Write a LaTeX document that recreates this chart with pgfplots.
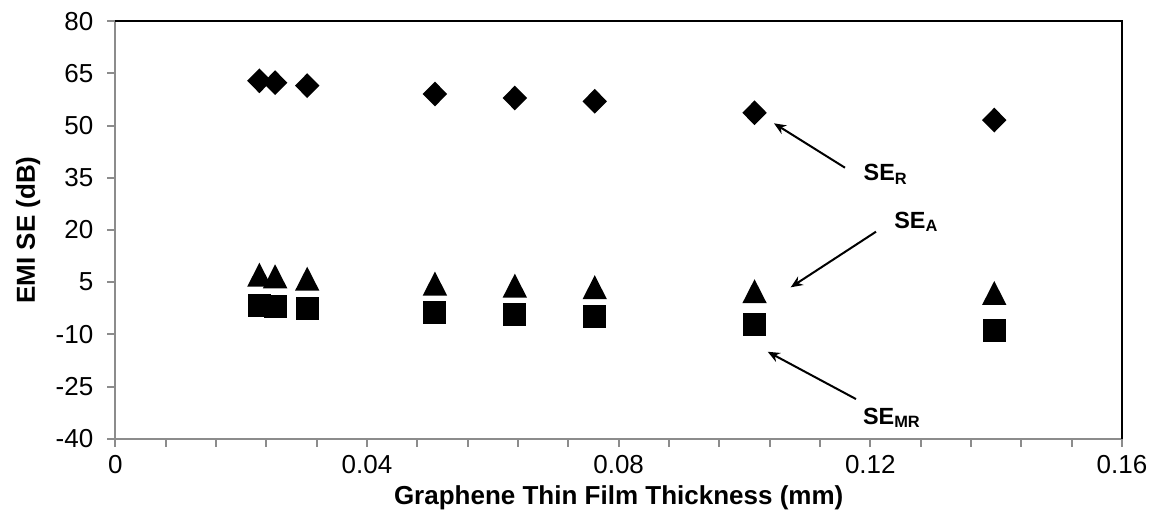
\documentclass[border=0pt]{standalone}
\usepackage{fontspec}
\setmainfont{Liberation Sans}
\usepackage{pgfplots}
\pgfplotsset{compat=1.18}
\usetikzlibrary{arrows.meta}

\pgfdeclareplotmark{ediam}{%
  \pgfpathmoveto{\pgfqpoint{0pt}{6.2pt}}%
  \pgfpathlineto{\pgfqpoint{6.1pt}{0pt}}%
  \pgfpathlineto{\pgfqpoint{0pt}{-6.2pt}}%
  \pgfpathlineto{\pgfqpoint{-6.1pt}{0pt}}%
  \pgfpathclose\pgfusepathqfill}
\pgfdeclareplotmark{etri}{%
  \pgfpathmoveto{\pgfqpoint{0pt}{6pt}}%
  \pgfpathlineto{\pgfqpoint{6.1pt}{-6pt}}%
  \pgfpathlineto{\pgfqpoint{-6.1pt}{-6pt}}%
  \pgfpathclose\pgfusepathqfill}
\pgfdeclareplotmark{esq}{%
  \pgfpathrectangle{\pgfqpoint{-5.75pt}{-5.75pt}}{\pgfqpoint{11.5pt}{11.5pt}}%
  \pgfusepathqfill}

\begin{document}
\begin{tikzpicture}
\begin{axis}[
  scale only axis, width=503.35pt, height=208.7pt,
  xmin=0, xmax=0.16, ymin=-40, ymax=80,
  xtick={0,0.04,0.08,0.12,0.16},
  xticklabels={0,0.04,0.08,0.12,0.16},
  minor xtick={0.008,0.016,0.024,0.032,0.048,0.056,0.064,0.072,0.088,0.096,0.104,0.112,0.128,0.136,0.144,0.152},
  ytick={-40,-25,-10,5,20,35,50,65,80},
  yticklabels={-40,-25,-10,5,20,35,50,65,80},
  tick align=outside, xtick pos=lower, ytick pos=left,
  major tick length=4pt, minor tick length=4pt,
  tick style={gray!90, line width=1pt},
  minor tick style={gray!90, line width=1pt},
  axis line style={draw=none},
  tick label style={font=\fontsize{13}{15}\selectfont},
  yticklabel style={xshift=-3.5pt},
  xticklabel style={yshift=-1pt},
  xlabel={Graphene Thin Film Thickness (mm)},
  ylabel={EMI SE (dB)},
  every axis x label/.style={at={([yshift=-29.6pt]axis description cs:0.5,0)}, anchor=center, font=\bfseries\fontsize{13}{15}\selectfont},
  every axis y label/.style={at={([xshift=-43.6pt]axis description cs:0,0.5)}, rotate=90, anchor=center, font=\bfseries\fontsize{13}{15}\selectfont},
  clip=false,
]
\draw[gray!90, line width=1pt] (rel axis cs:0,1) -- (rel axis cs:0,0) -- (rel axis cs:1,0);
\draw[black, line width=1pt] (rel axis cs:0,1) -- (rel axis cs:1,1) -- (rel axis cs:1,0);

\addplot[only marks, mark=ediam, black] coordinates {
(0.0229,62.9) (0.0254,62.35) (0.0305,61.5) (0.0508,59.1) (0.0635,57.95) (0.0762,57.0) (0.1016,53.7) (0.1397,51.6)};
\addplot[only marks, mark=etri, black] coordinates {
(0.0229,7.15) (0.0254,6.7) (0.0305,6.0) (0.0508,4.6) (0.0635,4.0) (0.0762,3.55) (0.1016,2.4) (0.1397,1.9)};
\addplot[only marks, mark=esq, black] coordinates {
(0.0229,-1.8) (0.0254,-2.1) (0.0305,-2.5) (0.0508,-3.7) (0.0635,-4.4) (0.0762,-4.9) (0.1016,-7.1) (0.1397,-8.8)};

\draw[-{Stealth[length=6pt,width=5pt]}, line width=1pt] (axis cs:0.11597,37.91) -- (axis cs:0.10469,50.67);
\draw[-{Stealth[length=6pt,width=5pt]}, line width=1pt] (axis cs:0.1209,19.51) -- (axis cs:0.10734,3.52);
\draw[-{Stealth[length=6pt,width=5pt]}, line width=1pt] (axis cs:0.11772,-28.6) -- (axis cs:0.10369,-15.0);
\node[anchor=base west, inner sep=0pt, font=\bfseries\fontsize{11.7}{13}\selectfont] at (axis cs:0.11888,34.17) {SE\textsubscript{R}};
\node[anchor=base west, inner sep=0pt, font=\bfseries\fontsize{11.7}{13}\selectfont] at (axis cs:0.12376,20.48) {SE\textsubscript{A}};
\node[anchor=base west, inner sep=0pt, font=\bfseries\fontsize{11.7}{13}\selectfont] at (axis cs:0.11878,-35.87) {SE\textsubscript{MR}};
\end{axis}
\pgfresetboundingbox
\path ([shift={(-57.65pt,-44.15pt)}]current axis.south west) rectangle ([shift={(17.5pt,10.65pt)}]current axis.north east);
\end{tikzpicture}
\end{document}
